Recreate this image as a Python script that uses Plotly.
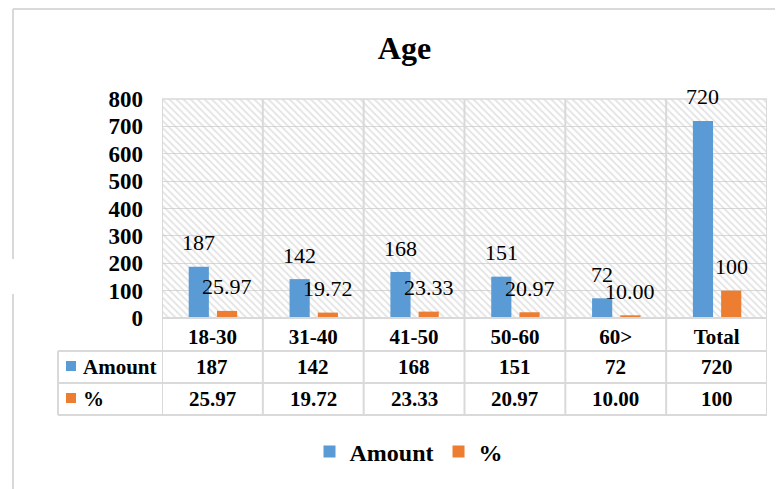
import plotly.graph_objects as go

# ---- data ----
categories = ["18-30", "31-40", "41-50", "50-60", "60>", "Total"]
amount = [187, 142, 168, 151, 72, 720]
percent = [25.97, 19.72, 23.33, 20.97, 10.00, 100]
percent_labels = ["25.97", "19.72", "23.33", "20.97", "10.00", "100"]
series_names = ["Amount", "%"]
y_ticks = [0, 100, 200, 300, 400, 500, 600, 700, 800]

# ---- style / layout constants ----
OFF = 8  # page body margin offset
W, H = 783 - OFF, 489 - OFF
PL, PR, PT, PB = 162 - OFF, 767 - OFF, 99 - OFF, 318 - OFF  # plot area in pixels
BLUE, ORANGE = "#5B9BD5", "#ED7D31"
GRID = "#D9D9D9"
FONT = "Liberation Serif"
BAR_W = 0.2
OFFS = [-0.235, 0.045]
Y_MAX = y_ticks[-1]


def px2x(px):
    return (px - OFF - PL) / (PR - PL)


def py2y(py):
    return (PB - (py - OFF)) / (PB - PT)


fig = go.Figure()

# hatched plot-area background
fig.add_trace(go.Bar(
    x=[categories[0]], y=[Y_MAX], width=[len(categories)], offset=-0.5,
    marker=dict(color="rgba(0,0,0,0)", line=dict(width=0),
                pattern=dict(shape="\\", size=5, solidity=0.35,
                             fgcolor="#c8c8c8", bgcolor="rgba(0,0,0,0)")),
    showlegend=False, hoverinfo="skip"))

for vals, name, col, off in [(amount, series_names[0], BLUE, OFFS[0]),
                             (percent, series_names[1], ORANGE, OFFS[1])]:
    fig.add_trace(go.Bar(x=categories, y=vals, name=name, width=BAR_W,
                         offset=off, marker=dict(color=col, line=dict(width=0))))

annotations = []
# data labels above bars
for i in range(len(categories)):
    for vals, txt, off in [(amount, [str(v) for v in amount], OFFS[0]),
                           (percent, percent_labels, OFFS[1])]:
        annotations.append(dict(
            x=i + off + BAR_W / 2, y=vals[i], xref="x", yref="y",
            text=txt[i], showarrow=False, yanchor="middle", yshift=24,
            font=dict(family=FONT, size=22, color="black")))

# data table values
row_centers = [367, 399]
for r, (vals, txt) in enumerate([(amount, [str(v) for v in amount]),
                                 (percent, percent_labels)]):
    for i in range(len(categories)):
        annotations.append(dict(
            x=i, y=py2y(row_centers[r]), xref="x", yref="paper",
            text=txt[i], showarrow=False, yanchor="middle",
            font=dict(family=FONT, size=21, color="black", weight="bold")))
    annotations.append(dict(
        x=px2x(81), y=py2y(row_centers[r]), xref="paper", yref="paper",
        text=series_names[r], showarrow=False, xanchor="left", yanchor="middle",
        font=dict(family=FONT, size=21, color="black", weight="bold")))

shapes = []
# table legend keys
for r, col in enumerate([BLUE, ORANGE]):
    cy = row_centers[r] - 1
    shapes.append(dict(type="rect", xref="paper", yref="paper",
                       x0=px2x(66), x1=px2x(76), y0=py2y(cy - 5), y1=py2y(cy + 5),
                       fillcolor=col, line=dict(width=0)))

# vertical category boundaries (plot + table)
TABLE_BOTTOM = 415
for k in range(len(categories) + 1):
    shapes.append(dict(type="line", xref="x", yref="paper",
                       x0=k - 0.5, x1=k - 0.5, y0=py2y(TABLE_BOTTOM), y1=1,
                       line=dict(color=GRID, width=2)))
# horizontal table lines
for yy in [351, 383, TABLE_BOTTOM]:
    shapes.append(dict(type="line", xref="paper", yref="paper",
                       x0=px2x(58), x1=1, y0=py2y(yy), y1=py2y(yy),
                       line=dict(color=GRID, width=2)))
shapes.append(dict(type="line", xref="paper", yref="paper",
                   x0=0, x1=1, y0=0, y1=0, line=dict(color=GRID, width=2)))
shapes.append(dict(type="line", xref="paper", yref="paper",
                   x0=px2x(58), x1=px2x(58), y0=py2y(351), y1=py2y(TABLE_BOTTOM),
                   line=dict(color=GRID, width=2)))
# plot area top
shapes.append(dict(type="line", xref="paper", yref="paper",
                   x0=0, x1=1, y0=1, y1=1, line=dict(color=GRID, width=1.5)))
# outer chart border (partial, as visible)
shapes.append(dict(type="line", xref="paper", yref="paper",
                   x0=px2x(13), x1=px2x(800), y0=py2y(9), y1=py2y(9),
                   line=dict(color=GRID, width=2)))
for a, b in [(9, 259), (294, 500)]:
    shapes.append(dict(type="line", xref="paper", yref="paper",
                       x0=px2x(13), x1=px2x(13), y0=py2y(a), y1=py2y(b),
                       line=dict(color=GRID, width=2)))

fig.update_layout(
    width=W, height=H,
    margin=dict(l=PL, r=W - PR, t=PT, b=H - PB, autoexpand=False),
    paper_bgcolor="white", plot_bgcolor="white",
    barmode="overlay",
    title=dict(text="Age", x=px2x(404.5), xref="paper", xanchor="center",
               y=1 - (48 - OFF) / H, yref="container", yanchor="middle",
               font=dict(family=FONT, size=32, color="black", weight="bold")),
    xaxis=dict(type="category", categoryorder="array", categoryarray=categories,
               range=[-0.5, len(categories) - 0.5], showgrid=False,
               zeroline=False, ticks="", showline=False, ticklabelstandoff=4,
               tickfont=dict(family=FONT, size=21, color="black", weight="bold")),
    yaxis=dict(range=[0, Y_MAX], tickvals=y_ticks, showgrid=True,
               gridcolor=GRID, gridwidth=1, zeroline=False, showline=False,
               ticks="", ticklabelstandoff=18,
               tickfont=dict(family=FONT, size=23, color="black", weight="bold")),
    legend=dict(orientation="h", x=px2x(409), xanchor="center",
                y=py2y(452), yanchor="middle",
                font=dict(family=FONT, size=24, color="black", weight="bold"),
                bgcolor="rgba(0,0,0,0)"),
    annotations=annotations,
    shapes=shapes,
)

fig.write_html("out.html")
